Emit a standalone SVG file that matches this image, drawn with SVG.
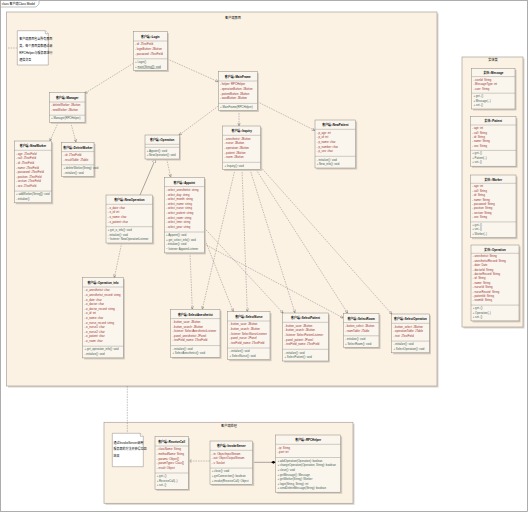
<svg xmlns="http://www.w3.org/2000/svg" width="528" height="512" viewBox="0 0 528 512" xml:space="preserve">
<style>
text{font-family:"Liberation Sans","Noto Sans CJK SC",sans-serif}
.frame{fill:#fff;stroke:#9a9a9a;stroke-width:0.8}
.pkg{fill:#FCF2E4;stroke:#A8A29A;stroke-width:0.7}
.psh{fill:#D9D3CA}
.box{fill:#FAF6EE;stroke:#8C877F;stroke-width:0.5}
.sh{fill:#CFC8BC}
.sep{stroke:#8C877F;stroke-width:0.4}
.hd{font-size:2.9px;font-weight:bold;fill:#000;text-anchor:middle}
.at{font-size:2.8px;fill:#9B2D2D}
.op{font-size:2.8px;fill:#3C5A50}
.cn{fill:none;stroke:#7a7a7a;stroke-width:0.45;stroke-dasharray:1.6 1}
.sol{fill:none;stroke:#555;stroke-width:0.5}
.note{fill:#fff;stroke:#8C877F;stroke-width:0.5}
.nt{font-size:3px;fill:#000}
.pl{font-size:3.2px;fill:#000;text-anchor:middle}
.u{text-decoration:underline}
</style>
<defs>
<marker id="dep" viewBox="0 0 10 10" refX="10" refY="5" markerWidth="3.2" markerHeight="3.2" orient="auto" markerUnits="userSpaceOnUse"><path d="M0,1 L10,5 L0,9" fill="none" stroke="#555" stroke-width="1.3"/></marker>
<marker id="gen" viewBox="0 0 10 10" refX="10" refY="5" markerWidth="4" markerHeight="4" orient="auto" markerUnits="userSpaceOnUse"><path d="M0,0.5 L10,5 L0,9.5 Z" fill="#fff" stroke="#555" stroke-width="1"/></marker>
<marker id="comp" viewBox="0 0 12 8" refX="0" refY="4" markerWidth="4.5" markerHeight="3" orient="auto" markerUnits="userSpaceOnUse"><path d="M0,4 L6,0 L12,4 L6,8 Z" fill="#000"/></marker>
</defs>

<rect class="frame" x="0.5" y="0.5" width="527" height="511"/>
<path d="M0.5,7 H36 L39,4 V0.5" fill="#fff" stroke="#9a9a9a" stroke-width="0.6"/>
<text x="1.8" y="4.6" style="font-size:3px;fill:#000">class 客户端Class Model</text>

<g id="pkg-client-ui">
<rect class="psh" x="8" y="13.5" width="430.5" height="374"/>
<rect class="pkg" x="6.5" y="12" width="430.5" height="374"/>
<text class="pl" x="233" y="19">客户端界面</text>
</g>
<g id="pkg-entity">
<rect class="psh" x="463.5" y="58.5" width="61" height="270"/>
<rect class="pkg" x="462" y="57" width="61" height="270"/>
<text class="pl" x="493" y="60.6">实体类</text>
</g>
<g id="pkg-client-proc">
<rect class="psh" x="105.5" y="423.8" width="249" height="81"/>
<rect class="pkg" x="104" y="422.3" width="249" height="81"/>
<text class="pl" x="229" y="427">客户端处理</text>
</g>

<g id="connectors">
<path class="cn" d="M17.3,48 H7"/>
<path class="cn" d="M127.3,386 V433.3"/>
<path class="cn" d="M167.3,59 L218.3,81.7" marker-end="url(#dep)"/>
<path class="cn" d="M133.3,63.3 L84.5,93.5" marker-end="url(#dep)"/>
<path class="cn" d="M239,110.5 V126" marker-end="url(#dep)"/>
<path class="cn" d="M218.3,106 L178.8,135.3" marker-end="url(#dep)"/>
<path class="cn" d="M257.3,101.7 L315,130.5" marker-end="url(#dep)"/>
<path class="cn" d="M58.3,122.3 L49.8,141" marker-end="url(#dep)"/>
<path class="cn" d="M70.7,122.3 L76,142.3" marker-end="url(#dep)"/>
<path class="sol" d="M140,195 L155.5,159" marker-end="url(#gen)"/>
<path class="cn" d="M166.7,159 L170.7,177.3" marker-end="url(#dep)"/>
<path class="cn" d="M121.7,243 L114.3,277.7" marker-end="url(#dep)"/>
<path class="cn" d="M190,252.9 L192.3,309.3" marker-end="url(#dep)"/>
<path class="cn" d="M235,169.4 L202.3,309.3" marker-end="url(#dep)"/>
<path class="cn" d="M204.3,238 L233.3,311.7" marker-end="url(#dep)"/>
<path class="cn" d="M242,169.4 L247.3,311.7" marker-end="url(#dep)"/>
<path class="cn" d="M204.3,228 L283.2,313.2" marker-end="url(#dep)"/>
<path class="cn" d="M250,169.4 L295,313" marker-end="url(#dep)"/>
<path class="cn" d="M204.3,244 L343.3,318" marker-end="url(#dep)"/>
<path class="cn" d="M256,169.4 L347.7,313.3" marker-end="url(#dep)"/>
<path class="cn" d="M260.7,167 L391.9,314.2" marker-end="url(#dep)"/>
<path class="cn" d="M210,461 L188.3,461" marker-end="url(#dep)"/>
<path class="sol" d="M275.7,462.3 L252.7,462.3" marker-start="url(#comp)"/>
</g>

<g id="note-ui">
<path class="note" d="M17.3,30.7 H45.3 L48.3,33.7 V65 H17.3 Z"/>
<path class="note" d="M45.3,30.7 V33.7 H48.3" fill="none"/>
<text class="nt" x="19.3" y="40.1">客户端界面包含所有界面</text>
<text class="nt" x="19.3" y="46.5">类，每个界面类都通过调</text>
<text class="nt" x="19.3" y="53.8">RPCHelper与服务器进行</text>
<text class="nt" x="19.3" y="61.1">通信交互</text>
</g>

<g id="Login">
<rect class="sh" x="134.8" y="33.2" width="34" height="38.8"/>
<rect class="box" x="133.3" y="31.7" width="34" height="38.8"/>
<text class="hd" x="150.3" y="37.9">客户端::Login</text>
<line class="sep" x1="133.3" y1="41" x2="167.3" y2="41"/>
<text class="at" x="135" y="45.4">-  id: JTextField</text>
<text class="at" x="135" y="50">-  loginButton: JButton</text>
<text class="at" x="135" y="54.6">-  password: JTextField</text>
<line class="sep" x1="133.3" y1="58.8" x2="167.3" y2="58.8"/>
<text class="op" x="135" y="63">+  Login()</text>
<text class="op" x="135" y="67.6">+  <tspan class="u">main(String[]): void</tspan></text>
</g>

<g id="Manager">
<rect class="sh" x="50.8" y="94.2" width="35.7" height="29.6"/>
<rect class="box" x="49.3" y="92.7" width="35.7" height="29.6"/>
<text class="hd" x="67.15" y="98.9">客户端::Manager</text>
<line class="sep" x1="49.3" y1="102" x2="85" y2="102"/>
<text class="at" x="51" y="106.4">-  deleteWorker: JButton</text>
<text class="at" x="51" y="111">-  newWorker: JButton</text>
<line class="sep" x1="49.3" y1="115.2" x2="85" y2="115.2"/>
<text class="op" x="51" y="119.4">+  Manager(RPCHelper)</text>
</g>

<g id="MainFrame">
<rect class="sh" x="219.8" y="73.2" width="39" height="38.8"/>
<rect class="box" x="218.3" y="71.7" width="39" height="38.8"/>
<text class="hd" x="237.8" y="77.9">客户端::MainFrame</text>
<line class="sep" x1="218.3" y1="81" x2="257.3" y2="81"/>
<text class="at" x="220" y="85.4">-  helper: RPCHelper</text>
<text class="at" x="220" y="90">-  operationButton: JButton</text>
<text class="at" x="220" y="94.6">-  patientButton: JButton</text>
<text class="at" x="220" y="99.2">-  wardButton: JButton</text>
<line class="sep" x1="218.3" y1="103.4" x2="257.3" y2="103.4"/>
<text class="op" x="220" y="107.6">+  MainFrame(RPCHelper)</text>
</g>

<g id="NewPatient">
<rect class="sh" x="316.5" y="121.5" width="40.7" height="48"/>
<rect class="box" x="315" y="120" width="40.7" height="48"/>
<text class="hd" x="335.35" y="126.2">客户端::NewPatient</text>
<line class="sep" x1="315" y1="129.3" x2="355.7" y2="129.3"/>
<text class="at" x="316.7" y="133.7">-  p_age: int</text>
<text class="at" x="316.7" y="138.3">-  p_id: int</text>
<text class="at" x="316.7" y="142.9">-  p_name: char</text>
<text class="at" x="316.7" y="147.5">-  p_number: char</text>
<text class="at" x="316.7" y="152.1">-  p_sex: char</text>
<line class="sep" x1="315" y1="156.3" x2="355.7" y2="156.3"/>
<text class="op" x="316.7" y="160.5">-  initialize(): void</text>
<text class="op" x="316.7" y="165.1">+  New_info(): void</text>
</g>

<g id="NewWorker">
<rect class="sh" x="15.8" y="142.5" width="37.4" height="61.8"/>
<rect class="box" x="14.3" y="141" width="37.4" height="61.8"/>
<text class="hd" x="33" y="147.2">客户端::NewWorker</text>
<line class="sep" x1="14.3" y1="150.3" x2="51.7" y2="150.3"/>
<text class="at" x="16" y="154.7">-  age: JTextField</text>
<text class="at" x="16" y="159.3">-  call: JTextField</text>
<text class="at" x="16" y="163.9">-  id: JTextField</text>
<text class="at" x="16" y="168.5">-  name: JTextField</text>
<text class="at" x="16" y="173.1">-  password: JTextField</text>
<text class="at" x="16" y="177.7">-  position: JTextField</text>
<text class="at" x="16" y="182.3">-  section: JTextField</text>
<text class="at" x="16" y="186.9">-  sex: JTextField</text>
<line class="sep" x1="14.3" y1="191.1" x2="51.7" y2="191.1"/>
<text class="op" x="16" y="195.3">+  addWorker(String[]): void</text>
<text class="op" x="16" y="199.9">-  initialize()</text>
</g>

<g id="DeleteWorker">
<rect class="sh" x="63.2" y="143.8" width="32.3" height="34.2"/>
<rect class="box" x="61.7" y="142.3" width="32.3" height="34.2"/>
<text class="hd" x="77.85" y="148.5">客户端::DeleteWorker</text>
<line class="sep" x1="61.7" y1="151.6" x2="94" y2="151.6"/>
<text class="at" x="63.4" y="156">-  id: JTextField</text>
<text class="at" x="63.4" y="160.6">-  resultTable: JTable</text>
<line class="sep" x1="61.7" y1="164.8" x2="94" y2="164.8"/>
<text class="op" x="63.4" y="169">+  deleteWorker(String): void</text>
<text class="op" x="63.4" y="173.6">-  initialize(): void</text>
</g>

<g id="Operation">
<rect class="sh" x="146.5" y="136.5" width="34.3" height="24"/>
<rect class="box" x="145" y="135" width="34.3" height="24"/>
<text class="hd" x="162.15" y="141.2">客户端::Operation</text>
<line class="sep" x1="145" y1="144.3" x2="179.3" y2="144.3"/>
<line class="sep" x1="145" y1="147.3" x2="179.3" y2="147.3"/>
<text class="op" x="146.7" y="151.5">+  Appoint(): void</text>
<text class="op" x="146.7" y="156.1">+  NewOperation(): void</text>
</g>

<g id="NewOperation">
<rect class="sh" x="107.5" y="196.5" width="46.7" height="48"/>
<rect class="box" x="106" y="195" width="46.7" height="48"/>
<text class="hd" x="129.35" y="201.2">客户端::NewOperation</text>
<line class="sep" x1="106" y1="204.3" x2="152.7" y2="204.3"/>
<text class="at" x="107.7" y="208.7">-  o_date: char</text>
<text class="at" x="107.7" y="213.3">-  o_id: int</text>
<text class="at" x="107.7" y="217.9">-  o_name: char</text>
<text class="at" x="107.7" y="222.5">-  o_patient: char</text>
<line class="sep" x1="106" y1="226.7" x2="152.7" y2="226.7"/>
<text class="op" x="107.7" y="230.9">+  get_o_info(): void</text>
<text class="op" x="107.7" y="235.5">-  initialize(): void</text>
<text class="op" x="107.7" y="240.1">~  listener: NewOperationListener</text>
</g>

<g id="Appoint">
<rect class="sh" x="165.8" y="178.8" width="40" height="75.6"/>
<rect class="box" x="164.3" y="177.3" width="40" height="75.6"/>
<text class="hd" x="184.3" y="183.5">客户端::Appoint</text>
<line class="sep" x1="164.3" y1="186.6" x2="204.3" y2="186.6"/>
<text class="at" x="166" y="191">-  select_anesthetist: string</text>
<text class="at" x="166" y="195.6">-  select_day: string</text>
<text class="at" x="166" y="200.2">-  select_month: string</text>
<text class="at" x="166" y="204.8">-  select_name: string</text>
<text class="at" x="166" y="209.4">-  select_nurse: string</text>
<text class="at" x="166" y="214">-  select_patient: string</text>
<text class="at" x="166" y="218.6">-  select_room: string</text>
<text class="at" x="166" y="223.2">-  select_time: string</text>
<text class="at" x="166" y="227.8">-  select_year: string</text>
<line class="sep" x1="164.3" y1="232" x2="204.3" y2="232"/>
<text class="op" x="166" y="236.2">+  Appoint(): void</text>
<text class="op" x="166" y="240.8">+  get_select_info(): void</text>
<text class="op" x="166" y="245.4">-  initialize(): void</text>
<text class="op" x="166" y="250">~  listener: AppointListener</text>
</g>

<g id="Inquiry">
<rect class="sh" x="224.2" y="127.5" width="38" height="43.4"/>
<rect class="box" x="222.7" y="126" width="38" height="43.4"/>
<text class="hd" x="241.7" y="132.2">客户端::Inquiry</text>
<line class="sep" x1="222.7" y1="135.3" x2="260.7" y2="135.3"/>
<text class="at" x="224.4" y="139.7">-  anesthetist: JButton</text>
<text class="at" x="224.4" y="144.3">-  nurse: JButton</text>
<text class="at" x="224.4" y="148.9">-  operation: JButton</text>
<text class="at" x="224.4" y="153.5">-  patient: JButton</text>
<text class="at" x="224.4" y="158.1">-  room: JButton</text>
<line class="sep" x1="222.7" y1="162.3" x2="260.7" y2="162.3"/>
<text class="op" x="224.4" y="166.5">+  Inquiry(): void</text>
</g>

<g id="Operation_info">
<rect class="sh" x="84.2" y="279.2" width="40.6" height="80.2"/>
<rect class="box" x="82.7" y="277.7" width="40.6" height="80.2"/>
<text class="hd" x="103" y="283.9">客户端::Operation_info</text>
<line class="sep" x1="82.7" y1="287" x2="123.3" y2="287"/>
<text class="at" x="84.4" y="291.4">-  o_anesthetist: char</text>
<text class="at" x="84.4" y="296">-  o_anesthetist_record: string</text>
<text class="at" x="84.4" y="300.6">-  o_date: char</text>
<text class="at" x="84.4" y="305.2">-  o_doctor: char</text>
<text class="at" x="84.4" y="309.8">-  o_doctor_record: string</text>
<text class="at" x="84.4" y="314.4">-  o_id: int</text>
<text class="at" x="84.4" y="319">-  o_name: char</text>
<text class="at" x="84.4" y="323.6">-  o_nurse_record: string</text>
<text class="at" x="84.4" y="328.2">-  o_nurse1: char</text>
<text class="at" x="84.4" y="332.8">-  o_nurse2: char</text>
<text class="at" x="84.4" y="337.4">-  o_patient: char</text>
<text class="at" x="84.4" y="342">-  o_room: char</text>
<line class="sep" x1="82.7" y1="346.2" x2="123.3" y2="346.2"/>
<text class="op" x="84.4" y="350.4">+  get_operation_info(): void</text>
<text class="op" x="84.4" y="355">-  initialize(): void</text>
</g>

<g id="SelectAnesthetist">
<rect class="sh" x="172.2" y="310.8" width="49.3" height="48"/>
<rect class="box" x="170.7" y="309.3" width="49.3" height="48"/>
<text class="hd" x="195.35" y="315.5">客户端::SelectAnesthetist</text>
<line class="sep" x1="170.7" y1="318.6" x2="220" y2="318.6"/>
<text class="at" x="172.4" y="323">-  button_save: JButton</text>
<text class="at" x="172.4" y="327.6">-  button_search: JButton</text>
<text class="at" x="172.4" y="332.2">-  listener: SelectAnesthetistListener</text>
<text class="at" x="172.4" y="336.8">-  panel_anesthetist: JPanel</text>
<text class="at" x="172.4" y="341.4">-  textField_name: JTextField</text>
<line class="sep" x1="170.7" y1="345.6" x2="220" y2="345.6"/>
<text class="op" x="172.4" y="349.8">-  initialize(): void</text>
<text class="op" x="172.4" y="354.4">+  SelectAnesthetist(): void</text>
</g>

<g id="SelectNurse">
<rect class="sh" x="229.2" y="313.2" width="42.3" height="48"/>
<rect class="box" x="227.7" y="311.7" width="42.3" height="48"/>
<text class="hd" x="248.85" y="317.9">客户端::SelectNurse</text>
<line class="sep" x1="227.7" y1="321" x2="270" y2="321"/>
<text class="at" x="229.4" y="325.4">-  button_save: JButton</text>
<text class="at" x="229.4" y="330">-  button_search: JButton</text>
<text class="at" x="229.4" y="334.6">-  listener: SelectNurseListener</text>
<text class="at" x="229.4" y="339.2">-  panel_nurse: JPanel</text>
<text class="at" x="229.4" y="343.8">-  textField_name: JTextField</text>
<line class="sep" x1="227.7" y1="348" x2="270" y2="348"/>
<text class="op" x="229.4" y="352.2">-  initialize(): void</text>
<text class="op" x="229.4" y="356.8">+  SelectNurse(): void</text>
</g>

<g id="SelectPatient">
<rect class="sh" x="284.2" y="314.5" width="45.6" height="48"/>
<rect class="box" x="282.7" y="313" width="45.6" height="48"/>
<text class="hd" x="305.5" y="319.2">客户端::SelectPatient</text>
<line class="sep" x1="282.7" y1="322.3" x2="328.3" y2="322.3"/>
<text class="at" x="284.4" y="326.7">-  button_save: JButton</text>
<text class="at" x="284.4" y="331.3">-  button_search: JButton</text>
<text class="at" x="284.4" y="335.9">-  listener: SelectPatientListener</text>
<text class="at" x="284.4" y="340.5">-  panel_patient: JPanel</text>
<text class="at" x="284.4" y="345.1">-  textField_name: JTextField</text>
<line class="sep" x1="282.7" y1="349.3" x2="328.3" y2="349.3"/>
<text class="op" x="284.4" y="353.5">-  initialize(): void</text>
<text class="op" x="284.4" y="358.1">+  SelectPatient(): void</text>
</g>

<g id="SelectRoom">
<rect class="sh" x="344.8" y="314.8" width="35.7" height="34.2"/>
<rect class="box" x="343.3" y="313.3" width="35.7" height="34.2"/>
<text class="hd" x="361.15" y="319.5">客户端::SelectRoom</text>
<line class="sep" x1="343.3" y1="322.6" x2="379" y2="322.6"/>
<text class="at" x="345" y="327">-  button_select: JButton</text>
<text class="at" x="345" y="331.6">-  roomTable: JTable</text>
<line class="sep" x1="343.3" y1="335.8" x2="379" y2="335.8"/>
<text class="op" x="345" y="340">-  initialize(): void</text>
<text class="op" x="345" y="344.6">+  SelectRoom(): void</text>
</g>

<g id="SelectOperation">
<rect class="sh" x="393.2" y="315.5" width="37.6" height="38.8"/>
<rect class="box" x="391.7" y="314" width="37.6" height="38.8"/>
<text class="hd" x="410.5" y="320.2">客户端::SelectOperation</text>
<line class="sep" x1="391.7" y1="323.3" x2="429.3" y2="323.3"/>
<text class="at" x="393.4" y="327.7">-  button_select: JButton</text>
<text class="at" x="393.4" y="332.3">-  operationTable: JTable</text>
<text class="at" x="393.4" y="336.9">-  text: JTextField</text>
<line class="sep" x1="391.7" y1="341.1" x2="429.3" y2="341.1"/>
<text class="op" x="393.4" y="345.3">-  initialize(): void</text>
<text class="op" x="393.4" y="349.9">+  SelectOperation(): void</text>
</g>

<g id="Message">
<rect class="sh" x="473.2" y="69.8" width="43.3" height="40.7"/>
<rect class="box" x="471.7" y="68.3" width="43.3" height="40.7"/>
<text class="hd" x="493.35" y="73.9">实体::Message</text>
<line class="sep" x1="471.7" y1="76.6" x2="515" y2="76.6"/>
<text class="at" x="473.4" y="80.7">-  iconId: String</text>
<text class="at" x="473.4" y="85.1">-  MessageType: int</text>
<text class="at" x="473.4" y="89.5">-  user: String</text>
<line class="sep" x1="471.7" y1="93.2" x2="515" y2="93.2"/>
<text class="op" x="473.4" y="97.2">+  get..()</text>
<text class="op" x="473.4" y="101.6">+  Message(..)</text>
<text class="op" x="473.4" y="106">+  set..()</text>
</g>

<g id="Patient">
<rect class="sh" x="472" y="118.2" width="45.5" height="49.5"/>
<rect class="box" x="470.5" y="116.7" width="45.5" height="49.5"/>
<text class="hd" x="493.25" y="122.3">实体::Patient</text>
<line class="sep" x1="470.5" y1="125" x2="516" y2="125"/>
<text class="at" x="472.2" y="129.1">-  age: int</text>
<text class="at" x="472.2" y="133.5">-  call: String</text>
<text class="at" x="472.2" y="137.9">-  id: String</text>
<text class="at" x="472.2" y="142.3">-  name: String</text>
<text class="at" x="472.2" y="146.7">-  sex: String</text>
<line class="sep" x1="470.5" y1="150.4" x2="516" y2="150.4"/>
<text class="op" x="472.2" y="154.4">+  get..()</text>
<text class="op" x="472.2" y="158.8">+  Patient(..)</text>
<text class="op" x="472.2" y="163.2">+  set..()</text>
</g>

<g id="Worker">
<rect class="sh" x="472" y="176.5" width="45.5" height="62.7"/>
<rect class="box" x="470.5" y="175" width="45.5" height="62.7"/>
<text class="hd" x="493.25" y="180.6">实体::Worker</text>
<line class="sep" x1="470.5" y1="183.3" x2="516" y2="183.3"/>
<text class="at" x="472.2" y="187.4">-  age: int</text>
<text class="at" x="472.2" y="191.8">-  call: String</text>
<text class="at" x="472.2" y="196.2">-  id: String</text>
<text class="at" x="472.2" y="200.6">-  name: String</text>
<text class="at" x="472.2" y="205">-  password: String</text>
<text class="at" x="472.2" y="209.4">-  position: String</text>
<text class="at" x="472.2" y="213.8">-  section: String</text>
<text class="at" x="472.2" y="218.2">-  sex: String</text>
<line class="sep" x1="470.5" y1="221.9" x2="516" y2="221.9"/>
<text class="op" x="472.2" y="225.9">+  get..()</text>
<text class="op" x="472.2" y="230.3">+  set..()</text>
<text class="op" x="472.2" y="234.7">+  Worker(..)</text>
</g>

<g id="EntityOperation">
<rect class="sh" x="472.5" y="246.5" width="48" height="75.9"/>
<rect class="box" x="471" y="245" width="48" height="75.9"/>
<text class="hd" x="495" y="250.6">实体::Operation</text>
<line class="sep" x1="471" y1="253.3" x2="519" y2="253.3"/>
<text class="at" x="472.7" y="257.4">-  anesthetist: String</text>
<text class="at" x="472.7" y="261.8">-  anesthetistRecord: String</text>
<text class="at" x="472.7" y="266.2">-  date: Date</text>
<text class="at" x="472.7" y="270.6">-  doctorId: String</text>
<text class="at" x="472.7" y="275">-  doctorRecord: String</text>
<text class="at" x="472.7" y="279.4">-  id: String</text>
<text class="at" x="472.7" y="283.8">-  name: String</text>
<text class="at" x="472.7" y="288.2">-  nurseId: String</text>
<text class="at" x="472.7" y="292.6">-  nurseRecord: String</text>
<text class="at" x="472.7" y="297">-  patientId: String</text>
<text class="at" x="472.7" y="301.4">-  roomId: String</text>
<line class="sep" x1="471" y1="305.1" x2="519" y2="305.1"/>
<text class="op" x="472.7" y="309.1">+  get..()</text>
<text class="op" x="472.7" y="313.5">+  Operation(..)</text>
<text class="op" x="472.7" y="317.9">+  set..()</text>
</g>

<g id="note-proc">
<path class="note" d="M112.3,433.3 H140.3 L143.3,436.3 V466.7 H112.3 Z"/>
<path class="note" d="M140.3,433.3 V436.3 H143.3" fill="none"/>
<text class="nt" x="113.5" y="443.8">通过InvokeServer调用</text>
<text class="nt" x="113.5" y="450.4">服务器的方法并获得返回</text>
<text class="nt" x="113.5" y="457.4">结果</text>
</g>

<g id="ReceiveCall">
<rect class="sh" x="156.5" y="438.2" width="33.3" height="52.6"/>
<rect class="box" x="155" y="436.7" width="33.3" height="52.6"/>
<text class="hd" x="171.65" y="442.9">客户端::ReceiveCall</text>
<line class="sep" x1="155" y1="446" x2="188.3" y2="446"/>
<text class="at" x="156.7" y="450.4">-  className: String</text>
<text class="at" x="156.7" y="455">-  methodName: String</text>
<text class="at" x="156.7" y="459.6">-  params: Object[]</text>
<text class="at" x="156.7" y="464.2">-  paramTypes: Class[]</text>
<text class="at" x="156.7" y="468.8">-  result: Object</text>
<line class="sep" x1="155" y1="473" x2="188.3" y2="473"/>
<text class="op" x="156.7" y="477.2">+  get..()</text>
<text class="op" x="156.7" y="481.8">+  ReceiveCall(..)</text>
<text class="op" x="156.7" y="486.4">+  set..()</text>
</g>

<g id="InvokeServer">
<rect class="sh" x="211.5" y="442.5" width="42.7" height="43.4"/>
<rect class="box" x="210" y="441" width="42.7" height="43.4"/>
<text class="hd" x="231.35" y="447.2">客户端::InvokeServer</text>
<line class="sep" x1="210" y1="450.3" x2="252.7" y2="450.3"/>
<text class="at" x="211.7" y="454.7">-  in: ObjectInputStream</text>
<text class="at" x="211.7" y="459.3">-  out: ObjectOutputStream</text>
<text class="at" x="211.7" y="463.9">-  s: Socket</text>
<line class="sep" x1="210" y1="468.1" x2="252.7" y2="468.1"/>
<text class="op" x="211.7" y="472.3">+  close(): void</text>
<text class="op" x="211.7" y="476.9">+  getConnection(): boolean</text>
<text class="op" x="211.7" y="481.5">+  invoke(ReceiveCall): Object</text>
</g>

<g id="RPCHelper">
<rect class="sh" x="277.2" y="436.5" width="65" height="57.2"/>
<rect class="box" x="275.7" y="435" width="65" height="57.2"/>
<text class="hd" x="308.2" y="441.2">客户端::RPCHelper</text>
<line class="sep" x1="275.7" y1="444.3" x2="340.7" y2="444.3"/>
<text class="at" x="277.4" y="448.7">-  ip: String</text>
<text class="at" x="277.4" y="453.3">-  port: int</text>
<line class="sep" x1="275.7" y1="457.5" x2="340.7" y2="457.5"/>
<text class="op" x="277.4" y="461.7">+  addOperation(Operation): boolean</text>
<text class="op" x="277.4" y="466.3">+  changeOperation(Operation, String): boolean</text>
<text class="op" x="277.4" y="470.9">+  close(): void</text>
<text class="op" x="277.4" y="475.5">+  getMessage(): Message</text>
<text class="op" x="277.4" y="480.1">+  getWorker(String): Worker</text>
<text class="op" x="277.4" y="484.7">+  login(String, String): int</text>
<text class="op" x="277.4" y="489.3">+  sendDeleteMessage(String): boolean</text>
</g>
</svg>
